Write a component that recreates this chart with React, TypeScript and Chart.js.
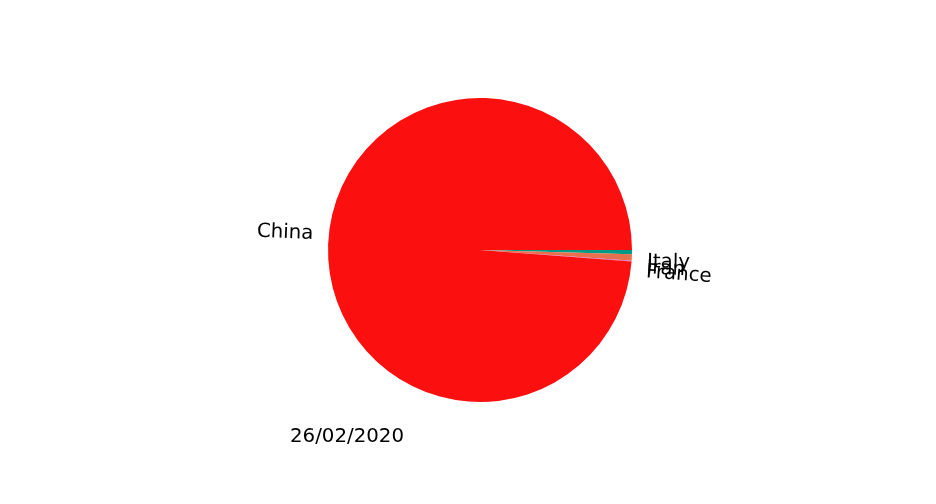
import React, { useRef, useEffect } from 'react';
import { Chart, registerables } from 'chart.js';

Chart.register(...registerables);

// deaths per country on 26/02/2020 (alphabetical, as in the source pie)
const countries = ['China', 'France', 'Iran', 'Italy'];
const deaths = [2715, 2, 19, 12];
const sliceColors = ['#fb0f0f', '#e35bd0', '#e8704c', '#009a86'];
const dateLabel = '26/02/2020';

const FONT = '19.8px "DejaVu Sans", sans-serif';

// matplotlib-style pie labels: at 1.1 r, rotated along the radius
const pieLabels = {
  id: 'pieLabels',
  afterDatasetsDraw(chart: Chart) {
    const { ctx } = chart;
    const meta = chart.getDatasetMeta(0);
    let cx = 0;
    let cy = 0;
    let r = 0;
    ctx.save();
    ctx.font = FONT;
    ctx.fillStyle = '#000';
    meta.data.forEach((el: any, i: number) => {
      const p = el.getProps(['x', 'y', 'startAngle', 'endAngle', 'outerRadius'], true);
      cx = p.x;
      cy = p.y;
      r = p.outerRadius;
      const phi = (p.startAngle + p.endAngle) / 2;
      const tx = p.x + 1.1 * r * Math.cos(phi);
      const ty = p.y + 1.1 * r * Math.sin(phi);
      const right = tx > p.x;
      const above = ty < p.y;
      ctx.save();
      ctx.translate(tx, ty);
      ctx.rotate(right ? phi : phi - Math.PI);
      ctx.textAlign = right ? 'left' : 'right';
      ctx.textBaseline = above ? 'bottom' : 'top';
      ctx.fillText(String(chart.data.labels![i]), 0, 0);
      ctx.restore();
    });
    // date caption under the pie
    ctx.textAlign = 'left';
    ctx.textBaseline = 'alphabetic';
    ctx.fillText(dateLabel, cx - 1.25 * r, cy + 1.26 * r);
    ctx.restore();
  },
};

const App: React.FC = () => {
  const canvasRef = useRef<HTMLCanvasElement>(null);
  const chartInstance = useRef<Chart | null>(null);

  useEffect(() => {
    if (!canvasRef.current) return;
    const ctx = canvasRef.current.getContext('2d');
    if (!ctx) return;

    if (chartInstance.current) {
      chartInstance.current.destroy();
    }

    // Chart.js goes clockwise, matplotlib counter-clockwise: reverse the order
    const labels = [...countries].reverse();
    const values = [...deaths].reverse();
    const colors = [...sliceColors].reverse();

    chartInstance.current = new Chart(ctx, {
      type: 'pie',
      data: {
        labels,
        datasets: [
          {
            data: values,
            backgroundColor: colors,
            borderWidth: 0,
          },
        ],
      },
      plugins: [pieLabels],
      options: {
        animation: false,
        responsive: false,
        rotation: 90,
        layout: {
          padding: { top: 98, bottom: 102, left: 24, right: 0 },
        },
        plugins: {
          legend: { display: false },
          tooltip: { enabled: false },
        },
      },
    });

    return () => {
      if (chartInstance.current) {
        chartInstance.current.destroy();
        chartInstance.current = null;
      }
    };
  }, []);

  return (
    <div style={{ position: 'absolute', left: 0, top: 0, width: 936, height: 504, background: '#fff' }}>
      <canvas ref={canvasRef} width={936} height={504} />
    </div>
  );
};

export default App;
